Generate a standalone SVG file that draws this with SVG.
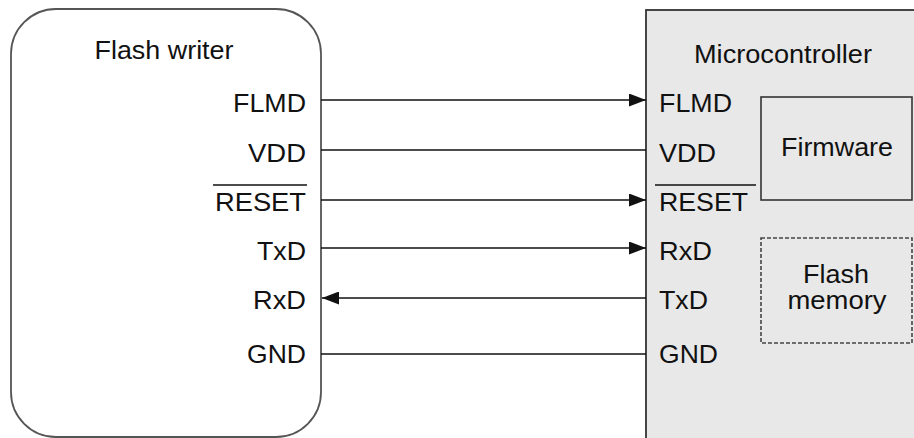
<svg xmlns="http://www.w3.org/2000/svg" width="914" height="438" viewBox="0 0 914 438">
<style>
text{font-family:"Liberation Sans",Arial,sans-serif;font-size:25px;fill:#111}
.l{text-anchor:end}
.c{text-anchor:middle}
.w{stroke:#111;stroke-width:1.6;fill:none}
</style>
<defs>
<marker id="a" viewBox="0 0 17 13" refX="17" refY="6.5" markerWidth="17" markerHeight="13" markerUnits="userSpaceOnUse" orient="auto"><path d="M0,0L17,6.5L0,13z" fill="#111"/></marker>
</defs>
<rect width="914" height="438" fill="#fff"/>
<g id="flash-writer">
<rect x="11" y="9" width="310" height="428" rx="45" fill="#fff" stroke="#555" stroke-width="1.8"/>
<text class="c" x="164" y="59" textLength="139" lengthAdjust="spacingAndGlyphs">Flash writer</text>
<text class="l" x="306" y="112" textLength="73" lengthAdjust="spacingAndGlyphs">FLMD</text>
<text class="l" x="306" y="162" textLength="58" lengthAdjust="spacingAndGlyphs">VDD</text>
<text class="l" x="306" y="211" textLength="91" lengthAdjust="spacingAndGlyphs">RESET</text>
<line x1="213" y1="185" x2="307" y2="185" stroke="#111" stroke-width="1.5"/>
<text class="l" x="306" y="260" textLength="49" lengthAdjust="spacingAndGlyphs">TxD</text>
<text class="l" x="306" y="309" textLength="53" lengthAdjust="spacingAndGlyphs">RxD</text>
<text class="l" x="306" y="363" textLength="59" lengthAdjust="spacingAndGlyphs">GND</text>
</g>
<g id="microcontroller">
<rect x="646" y="10" width="280" height="450" fill="#e8e8e8" stroke="#333" stroke-width="1.8"/>
<text class="c" x="783" y="63" textLength="178" lengthAdjust="spacingAndGlyphs">Microcontroller</text>
<text x="659" y="112" textLength="73" lengthAdjust="spacingAndGlyphs">FLMD</text>
<text x="659" y="162" textLength="57" lengthAdjust="spacingAndGlyphs">VDD</text>
<text x="659" y="211" textLength="89" lengthAdjust="spacingAndGlyphs">RESET</text>
<line x1="655" y1="185" x2="756" y2="185" stroke="#111" stroke-width="1.5"/>
<text x="659" y="260" textLength="53" lengthAdjust="spacingAndGlyphs">RxD</text>
<text x="659" y="309" textLength="49" lengthAdjust="spacingAndGlyphs">TxD</text>
<text x="659" y="363" textLength="59" lengthAdjust="spacingAndGlyphs">GND</text>
</g>
<g id="firmware">
<rect x="761" y="97" width="151" height="103" fill="#e8e8e8" stroke="#333" stroke-width="1.6"/>
<text class="c" x="837" y="156" textLength="112" lengthAdjust="spacingAndGlyphs">Firmware</text>
</g>
<g id="flash-memory">
<rect x="761" y="238" width="151" height="105" fill="#e8e8e8" stroke="#444" stroke-width="1.6" stroke-dasharray="4,2"/>
<text class="c" x="836" y="283" textLength="66" lengthAdjust="spacingAndGlyphs">Flash</text>
<text class="c" x="837" y="309" textLength="99" lengthAdjust="spacingAndGlyphs">memory</text>
</g>
<g id="connectors">
<line class="w" x1="321" y1="100" x2="646" y2="100" marker-end="url(#a)"/>
<line class="w" x1="321" y1="150" x2="646" y2="150"/>
<line class="w" x1="321" y1="200" x2="646" y2="200" marker-end="url(#a)"/>
<line class="w" x1="321" y1="248" x2="646" y2="248" marker-end="url(#a)"/>
<line class="w" x1="646" y1="298" x2="322" y2="298" marker-end="url(#a)"/>
<line class="w" x1="321" y1="354" x2="646" y2="354"/>
</g>
</svg>
